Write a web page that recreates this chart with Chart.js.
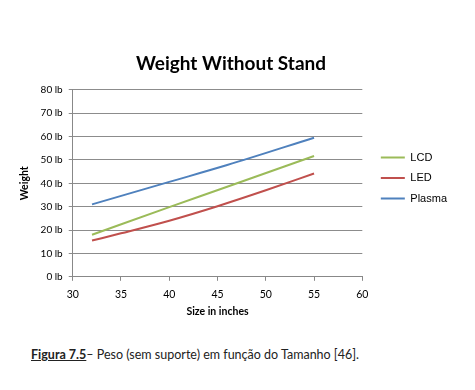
<!DOCTYPE html>
<html><head><meta charset="utf-8">
<script src="https://cdn.jsdelivr.net/npm/chart.js@4/dist/chart.umd.min.js"></script>
<style>
html,body{margin:0;padding:0;background:#fff;width:475px;height:390px;overflow:hidden}
#wrap{position:absolute;left:0;top:30px;width:475px;height:292px}
#cap{position:absolute;left:31px;top:347px;font-family:Lato,"Open Sans",sans-serif;font-size:12.5px;color:#222;white-space:nowrap}
#cap b{text-decoration:underline}
</style></head><body>
<div id="wrap"><canvas id="c"></canvas></div>
<div id="cap"><b>Figura 7.5</b>– Peso (sem suporte) em função do Tamanho [46].</div>
<script>
const sizesLCD = [32, 40, 46, 55];
const lcd = [18, 29.8, 38.5, 51.7];
const sizesLED = [32, 35, 40, 45, 50, 55];
const led = [15.5, 18.6, 24.0, 30.2, 37, 44.2];
const sizesPlasma = [32, 40, 46, 55];
const plasma = [31, 40.6, 47.8, 59.5];
const seriesNames = ['LCD', 'LED', 'Plasma'];
const colors = ['#9BBB59', '#C0504D', '#4F81BD'];

const pts = (xs, ys) => xs.map((x, i) => ({x: x, y: ys[i]}));
const font = 'Lato,"Open Sans",sans-serif';
const legendShift = {
  id: 'legendShift',
  afterLayout(chart) { const l = chart.legend; l.left += 9; l.right += 9; l.top += 4; l.bottom += 4; }
};
new Chart(document.getElementById('c'), {
  type: 'scatter',
  data: {
    datasets: [
      {label: seriesNames[0], data: pts(sizesLCD, lcd)},
      {label: seriesNames[1], data: pts(sizesLED, led)},
      {label: seriesNames[2], data: pts(sizesPlasma, plasma)}
    ].map((d, i) => Object.assign(d, {showLine: true, borderColor: colors[i], backgroundColor: colors[i], borderWidth: 2, pointRadius: 0, cubicInterpolationMode: 'monotone'}))
  },
  plugins: [legendShift],
  options: {
    responsive: true, maintainAspectRatio: false, animation: false,
    layout: {padding: {left: 14, right: 27, top: 0, bottom: 4}},
    plugins: {
      title: {display: true, text: 'Weight Without Stand', font: {family: font, size: 19, weight: 'bold'}, color: '#000', padding: {top: 22, bottom: 15}},
      legend: {position: 'right', labels: {usePointStyle: true, pointStyle: 'line', pointStyleWidth: 24, padding: 9.5, font: {family: '"Liberation Sans",sans-serif', size: 11}, color: '#000'}},
      tooltip: {enabled: false}
    },
    scales: {
      x: {type: 'linear', min: 30, max: 60,
        ticks: {stepSize: 5, font: {family: font, size: 10.5}, color: '#000', padding: 8},
        grid: {drawOnChartArea: false, color: '#888', tickLength: 4},
        border: {color: '#888'},
        title: {display: true, text: 'Size in inches', font: {family: font, size: 10.5, weight: 'bold'}, color: '#000', padding: {top: -4, bottom: 0}}
      },
      y: {min: 0, max: 80,
        ticks: {stepSize: 10, callback: v => v + ' lb', font: {family: font, size: 10}, color: '#000', padding: 6},
        grid: {color: '#8c8c8c', tickLength: 4},
        border: {color: '#888'},
        title: {display: true, text: 'Weight', font: {family: font, size: 10.5, weight: 'bold'}, color: '#000', padding: {bottom: 4}}
      }
    }
  }
});
</script>
</body></html>
